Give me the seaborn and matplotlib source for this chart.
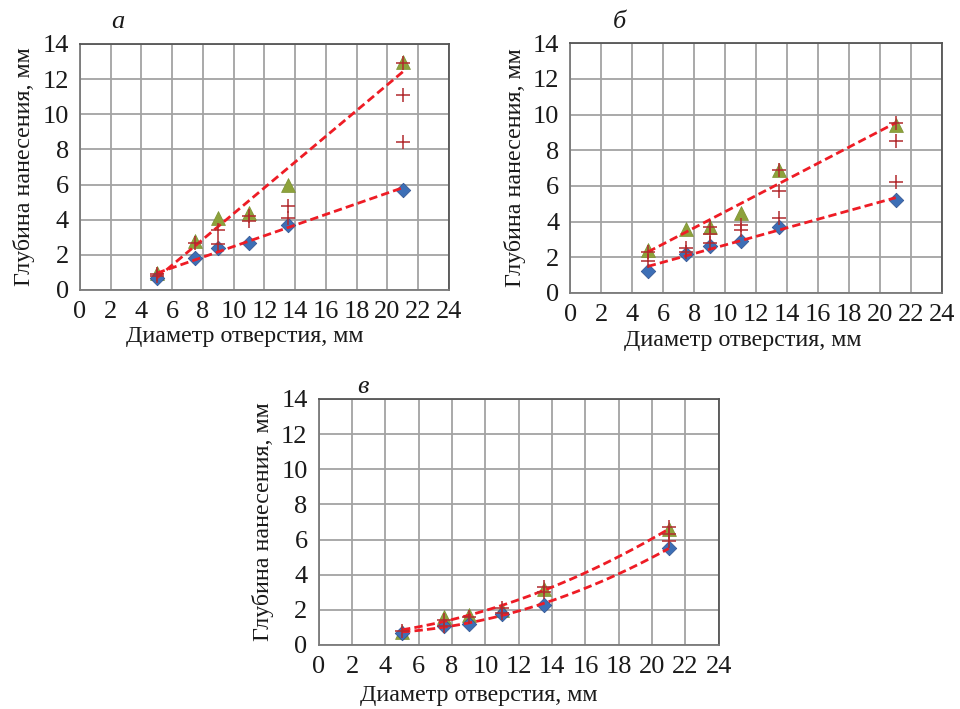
import numpy as np
import pandas as pd
import matplotlib
matplotlib.use("Agg")
import matplotlib.pyplot as plt
import seaborn as sns

# диаметры отверстий, мм
d = [5, 7.5, 9, 11, 13.5, 21]

# панель а
a_min = [0.7, 1.8, 2.4, 2.7, 3.7, 5.7]
a_max = [0.95, 2.8, 4.1, 4.4, 6.0, 13.0]
a_mid_x = [5, 5, 7.5, 9, 9, 11, 11, 13.5, 13.5, 21, 21, 21]
a_mid_y = [0.8, 0.9, 2.7, 3.4, 2.6, 3.9, 4.2, 4.8, 4.1, 11.1, 8.4, 12.9]

# панель б
b_min = [1.2, 2.2, 2.6, 2.9, 3.7, 5.2]
b_max = [2.4, 3.6, 3.7, 4.5, 6.9, 9.4]
b_mid_x = [5, 5, 7.5, 7.5, 9, 9, 9, 11, 11, 13.5, 13.5, 13.5, 21, 21, 21]
b_mid_y = [1.8, 2.3, 2.5, 2.3, 3.3, 2.8, 3.7, 3.8, 3.5, 5.7, 4.2, 6.9, 8.5, 6.2, 9.5]

# панель в
c_min = [0.7, 1.1, 1.2, 1.75, 2.3, 5.5]
c_max = [0.75, 1.6, 1.7, 2.0, 3.2, 6.6]
c_mid_x = [5, 7.5, 7.5, 9, 11, 11, 13.5, 13.5, 21, 21, 21]
c_mid_y = [0.8, 1.4, 1.1, 1.6, 2.1, 1.8, 3.3, 3.0, 6.7, 6.3, 5.9]

sns.set_style("white")
plt.rcParams['font.family'] = ['Liberation Serif', 'DejaVu Serif']

fig = plt.figure(figsize=(9.6, 7.09), dpi=100)

panels = [
    ("а", [0.0833, 0.591, 0.3844, 0.347], a_min, a_max, a_mid_x, a_mid_y, 1, (0.123, 0.985), (0.447, -0.146)),
    ("б", [0.594, 0.587, 0.3875, 0.352], b_min, b_max, b_mid_x, b_mid_y, 1, (0.645, 0.985), (0.465, -0.148)),
    ("в", [0.332, 0.0903, 0.4167, 0.347], c_min, c_max, c_mid_x, c_mid_y, 2, (0.378, 0.47), (0.40, -0.163)),
]

grid_col = "#a3a3a3"
frame_col = "#555555"

for name, pos, ymin, ymax, mx, my, deg, lab, xl in panels:
    ax = fig.add_axes(pos)
    df_min = pd.DataFrame({"x": d, "y": ymin})
    df_max = pd.DataFrame({"x": d, "y": ymax})
    df_mid = pd.DataFrame({"x": mx, "y": my})

    # линии тренда
    xs = np.linspace(5, 21, 100)
    for arr in (ymin, ymax):
        p = np.polyfit(d, arr, deg)
        sns.lineplot(x=xs, y=np.polyval(p, xs), ax=ax, color="#ee1c25",
                     linestyle=(0, (3, 1.5)), linewidth=2, zorder=4)

    sns.scatterplot(data=df_max, x="x", y="y", ax=ax, marker="^", s=100,
                    color="#8da23b", edgecolor="#7a9030", linewidth=0.5, zorder=3)
    sns.scatterplot(data=df_min, x="x", y="y", ax=ax, marker="D", s=55,
                    color="#3d6fb6", edgecolor="#2d4f8c", linewidth=0.5, zorder=3)
    sns.scatterplot(data=df_mid, x="x", y="y", ax=ax, marker="+", s=90,
                    color="#b22a2e", linewidth=1.1, zorder=5)

    ax.set_xlim(0, 24)
    ax.set_ylim(0, 14)
    ax.set_xticks(range(0, 25, 2))
    ax.set_yticks(range(0, 15, 2))
    ax.grid(True, color=grid_col, linewidth=1.3)
    ax.set_axisbelow(True)
    for s in ax.spines.values():
        s.set_color(frame_col)
        s.set_linewidth(1.3)
    ax.spines["left"].set_color("#7a7a7a")
    ax.spines["bottom"].set_color("#7a7a7a")
    ax.tick_params(axis="both", direction="out", length=6, width=1.3,
                   color=grid_col, labelsize=19, pad=2, labelcolor="#1a1a1a")
    ax.set_xlabel("Диаметр отверстия, мм", fontsize=17.3, color="#1a1a1a")
    ax.xaxis.set_label_coords(xl[0], xl[1])
    ax.set_ylabel("Глубина нанесения, мм", fontsize=17.3, labelpad=5, color="#1a1a1a")
    fig.text(lab[0], lab[1], name, fontsize=19, style="italic", ha="center",
             va="top", color="#1a1a1a")

fig.savefig("out.png", dpi=100)
